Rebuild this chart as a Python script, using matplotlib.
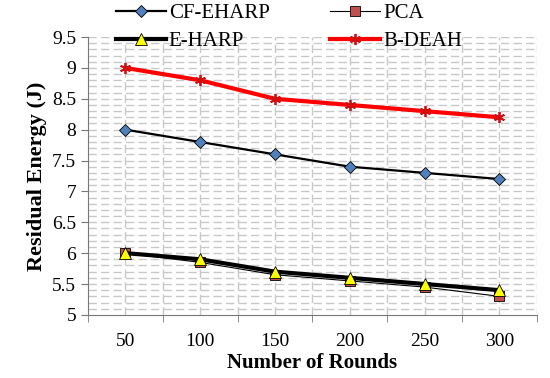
import matplotlib
matplotlib.use('Agg')
import matplotlib.pyplot as plt
import numpy as np

rounds = [50, 100, 150, 200, 250, 300]
cf_eharp = [8.0, 7.8, 7.6, 7.4, 7.3, 7.2]
pca = [6.0, 5.85, 5.65, 5.55, 5.45, 5.3]
e_harp = [6.0, 5.9, 5.7, 5.6, 5.5, 5.4]
b_deah = [9.0, 8.8, 8.5, 8.4, 8.3, 8.2]

plt.rcParams['font.family'] = 'Liberation Serif'

fig = plt.figure(figsize=(5.5, 3.78), dpi=100)
ax = fig.add_axes([0.16, 0.167, 0.816, 0.735])

x = np.arange(len(rounds))
l1, = ax.plot(x, cf_eharp, color='black', lw=1.6, marker='D', ms=6.5,
              mfc='#4F81BD', mec='black', mew=0.6, label='CF-EHARP', zorder=3)
l2, = ax.plot(x, pca, color='black', lw=0.8, marker='s', ms=6.5,
              mfc='#C0504D', mec='black', mew=0.6, label='PCA', zorder=3)
l3, = ax.plot(x, e_harp, color='black', lw=3, marker='^', ms=9,
              mfc='yellow', mec='black', mew=0.6, label='E-HARP', zorder=4)
l4, = ax.plot(x, b_deah, color='red', lw=3, marker=(6, 2, 0), ms=8,
              mec='#d01010', mew=1.3, label='B-DEAH', zorder=4)

ax.set_xlim(-0.5, len(rounds) - 0.5)
ax.set_ylim(5, 9.5)
ax.set_xticks(x)
ax.set_xticklabels(rounds)
ax.set_xticks(np.arange(-0.5, len(rounds), 1.0), minor=True)
ax.tick_params(axis='x', which='major', length=0, labelsize=14, pad=13)
ax.tick_params(axis='x', which='minor', length=5, direction='out', color='#777777')
ax.set_yticks(np.arange(5, 9.51, 0.5))
ax.set_yticklabels(['5', '5.5', '6', '6.5', '7', '7.5', '8', '8.5', '9', '9.5'])
ax.tick_params(axis='y', length=5, labelsize=14, color='#777777')

# dashed grid: horizontal every 0.1, vertical every half category
for yv in np.arange(5.1, 9.51, 0.1):
    ax.axhline(yv, color='#c8c8c8', lw=1.0, ls=(0, (6, 3)), zorder=1)
for xv in np.arange(0, len(rounds) - 0.49, 0.5):
    ax.axvline(xv, color='#c8c8c8', lw=1.0, ls=(0, (6, 3)), zorder=1)

for s in ['top', 'right']:
    ax.spines[s].set_visible(False)
ax.spines['left'].set_color('#777777')
ax.spines['bottom'].set_color('#777777')

ax.set_xlabel('Number of Rounds', fontsize=15, fontweight='bold', labelpad=2)
ax.set_ylabel('Residual Energy (J)', fontsize=16, fontweight='bold')

fig.legend([l1, l3, l2, l4], ['CF-EHARP', 'E-HARP', 'PCA', 'B-DEAH'],
           loc='center', bbox_to_anchor=(0.525, 0.928), ncol=2, frameon=False,
           fontsize=15, handlelength=2.4, columnspacing=2.9, handletextpad=0.15,
           labelspacing=0.42, borderaxespad=0, borderpad=0)

plt.savefig('out.png', dpi=100)
